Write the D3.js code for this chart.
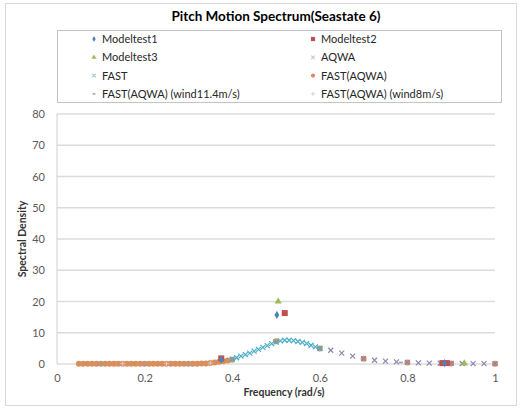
<!DOCTYPE html>
<html><head><meta charset="utf-8">
<script src="https://cdn.jsdelivr.net/npm/d3@7"></script>
<style>body{margin:0;background:#fff}svg{display:block}</style>
</head><body>
<script>
// ---- data ----
const title = "Pitch Motion Spectrum(Seastate 6)";
const xTicks = [0, 0.2, 0.4, 0.6, 0.8, 1];
const yTicks = [0, 10, 20, 30, 40, 50, 60, 70, 80];

const modeltest1 = [[0.502, 15.7], [0.375, 1.4], [0.885, 0.3]];
const modeltest2 = [[0.52, 16.3], [0.375, 1.8], [0.88, 0.3], [0.89, 0.3]];
const modeltest3 = [[0.505, 20.0], [0.93, 0.2]];
const aqwa = [[0.6,5.0],[0.625,4.4],[0.65,3.5],[0.675,2.5],[0.7,1.7],[0.725,1.2],[0.75,0.9],[0.775,0.7],[0.8,0.5],[0.825,0.35],[0.85,0.3],[0.875,0.25],[0.9,0.2],[0.925,0.15],[0.95,0.1],[0.975,0.1],[1.0,0.1]];
const fast = [[0.40,1.6],[0.41,2.0],[0.42,2.5],[0.43,3.0],[0.44,3.5],[0.45,4.1],[0.46,4.7],[0.47,5.3],[0.48,5.9],[0.49,6.5],[0.50,7.0],[0.51,7.4],[0.52,7.6],[0.53,7.6],[0.54,7.5],[0.55,7.2],[0.56,6.9],[0.57,6.5],[0.58,6.0],[0.59,5.5],[0.60,5.0]];
const fastAqwa = [[0.05,0.1],[0.06,0.1],[0.07,0.1],[0.08,0.1],[0.09,0.1],[0.10,0.1],[0.11,0.1],[0.12,0.1],[0.13,0.1],[0.14,0.1],[0.15,0.1],[0.16,0.1],[0.17,0.1],[0.18,0.1],[0.19,0.1],[0.20,0.1],[0.21,0.1],[0.22,0.1],[0.23,0.1],[0.24,0.1],[0.25,0.1],[0.26,0.1],[0.27,0.1],[0.28,0.1],[0.29,0.1],[0.30,0.1],[0.31,0.1],[0.32,0.1],[0.33,0.15],[0.34,0.2],[0.35,0.3],[0.36,0.5],[0.37,0.7],[0.38,0.9],[0.39,1.1],[0.40,1.4],[0.50,7.3],[0.60,5.0],[0.70,1.7],[0.80,0.5],[0.90,0.2],[1.00,0.1]];
const fastWind114 = [[0.10,0.1],[0.20,0.1],[0.30,0.1],[0.785,0.5]];
const fastWind8 = [[0.15,0.1],[0.25,0.1],[0.35,0.3]];

// ---- layout ----
const W = 522, H = 411;
const m = {l: 57, r: 495, t: 114, b: 364};
const font = "Lato, 'Open Sans', sans-serif";

const svg = d3.select("body").append("svg").attr("width", W).attr("height", H)
  .style("font-family", font);

svg.append("rect").attr("x", 5.5).attr("y", 3.5).attr("width", 511).attr("height", 402)
  .attr("fill", "#fff").attr("stroke", "#d9d9d9").attr("stroke-width", 1);

const x = d3.scaleLinear().domain([0, 1]).range([m.l, m.r]);
const y = d3.scaleLinear().domain([0, 80]).range([m.b, m.t]);

// gridlines
svg.append("g").selectAll("line").data(yTicks).join("line")
  .attr("x1", m.l).attr("x2", m.r).attr("y1", d => y(d)).attr("y2", d => y(d))
  .attr("stroke", "#dcdcdc").attr("stroke-width", 1.5);
svg.append("line").attr("x1", m.l).attr("x2", m.l).attr("y1", m.t).attr("y2", m.b)
  .attr("stroke", "#d0d0d0").attr("stroke-width", 1);

// axes (labels only)
const yAxis = svg.append("g").attr("transform", `translate(${m.l - 12},0)`)
  .call(d3.axisLeft(y).tickValues(yTicks).tickSize(0).tickPadding(0));
yAxis.select(".domain").remove();
yAxis.selectAll("text").attr("fill", "#595959").style("font-size", "11px").style("font-family", font);

const xAxis = svg.append("g").attr("transform", `translate(0,${m.b + 10})`)
  .call(d3.axisBottom(x).tickValues(xTicks).tickFormat(d3.format("")).tickSize(0).tickPadding(0));
xAxis.select(".domain").remove();
xAxis.selectAll("text").attr("fill", "#595959").style("font-size", "11px").style("font-family", font);

// titles
svg.append("text").attr("x", 276).attr("y", 21).attr("text-anchor", "middle")
  .style("font-size", "13.5px").style("font-weight", "bold").attr("fill", "#000").text(title);
svg.append("text").attr("x", 284).attr("y", 396).attr("text-anchor", "middle")
  .style("font-size", "10.5px").style("font-weight", "bold").attr("fill", "#333").text("Frequency (rad/s)");
svg.append("text").attr("transform", "translate(26,239) rotate(-90)").attr("text-anchor", "middle")
  .style("font-size", "10.5px").style("font-weight", "bold").attr("fill", "#333").text("Spectral Density");

// marker drawers
const sym = (type, size) => d3.symbol().type(type).size(size)();
function drawMarker(g, kind, px, py, k) {
  const s = k || 1;
  if (kind === "diamond") g.append("path").attr("d", sym(d3.symbolDiamond, 20 * s * s)).attr("transform", `translate(${px},${py})`).attr("fill", "#4F81BD");
  else if (kind === "square") g.append("rect").attr("x", px-3*s).attr("y", py-3*s).attr("width", 6*s).attr("height", 6*s).attr("fill", "#C0504D");
  else if (kind === "triangle") g.append("path").attr("d", sym(d3.symbolTriangle, 22 * s * s)).attr("transform", `translate(${px},${py})`).attr("fill", "#9BBB59");
  else if (kind === "xaqwa") g.append("path").attr("d", `M${px-2.5*s},${py-2.5*s}L${px+2.5*s},${py+2.5*s}M${px-2.5*s},${py+2.5*s}L${px+2.5*s},${py-2.5*s}`).attr("stroke", s < 1 ? "#c8c8d0" : "#8c86b0").attr("stroke-width", 1.2).attr("fill", "none");
  else if (kind === "xfast") g.append("path").attr("d", `M${px-2.5*s},${py-2.5*s}L${px+2.5*s},${py+2.5*s}M${px-2.5*s},${py+2.5*s}L${px+2.5*s},${py-2.5*s}`).attr("stroke", s < 1 ? "#a8c8d4" : "#4BACC6").attr("stroke-width", 1.2).attr("fill", "none");
  else if (kind === "circle") g.append("circle").attr("cx", px).attr("cy", py).attr("r", 3*s).attr("fill", "#D98E5E");
  else if (kind === "dash") g.append("line").attr("x1", px-2*s).attr("x2", px+2*s).attr("y1", py).attr("y2", py).attr("stroke", "#8aa0bf").attr("stroke-width", 1.5);
  else if (kind === "plus") g.append("path").attr("d", `M${px-2.5*s},${py}L${px+2.5*s},${py}M${px},${py-2.5*s}L${px},${py+2.5*s}`).attr("stroke", "#dccaca").attr("stroke-width", 1);
}

const series = [
  {name: "Modeltest1", data: modeltest1, kind: "diamond"},
  {name: "Modeltest2", data: modeltest2, kind: "square"},
  {name: "Modeltest3", data: modeltest3, kind: "triangle"},
  {name: "AQWA", data: aqwa, kind: "xaqwa"},
  {name: "FAST", data: fast, kind: "xfast"},
  {name: "FAST(AQWA)", data: fastAqwa, kind: "circle"},
  {name: "FAST(AQWA) (wind11.4m/s)", data: fastWind114, kind: "dash"},
  {name: "FAST(AQWA) (wind8m/s)", data: fastWind8, kind: "plus"}
];

const plot = svg.append("g");
const drawOrder = [5, 7, 6, 3, 4, 1, 0, 2];
drawOrder.forEach(i => {
  const s = series[i];
  const g = plot.append("g");
  s.data.forEach(d => drawMarker(g, s.kind, x(d[0]), y(d[1])));
});

// legend
svg.append("rect").attr("x", 57.5).attr("y", 30.5).attr("width", 444).attr("height", 72)
  .attr("fill", "none").attr("stroke", "#888").attr("stroke-width", 1).attr("stroke-dasharray", "1,1");
const leg = svg.append("g");
series.forEach((s, i) => {
  const col = i % 2, row = Math.floor(i / 2);
  const mx = col === 0 ? 94 : 313;
  const my = 39 + row * 18.3;
  drawMarker(leg, s.kind, mx, my, 0.7);
  leg.append("text").attr("x", mx + 8).attr("y", my + 4).style("font-size", "11px")
    .attr("fill", "#262626").text(s.name);
});
</script>
</body></html>
